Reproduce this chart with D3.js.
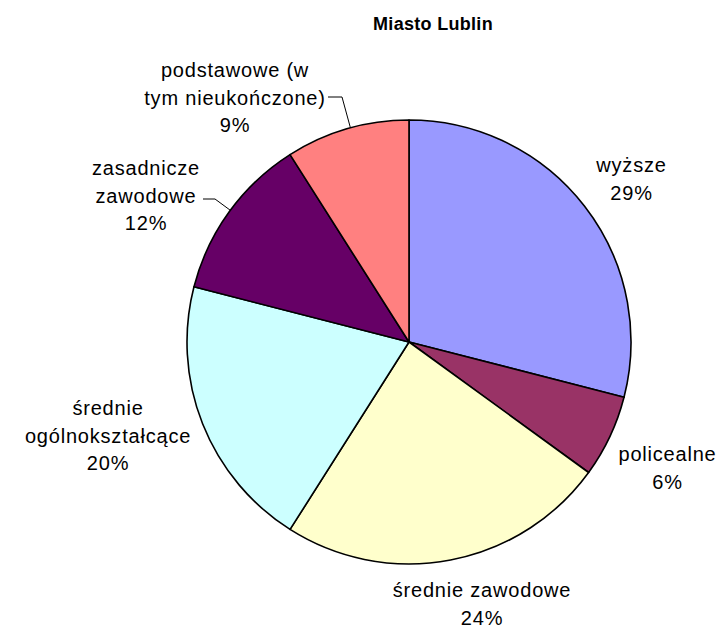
<!DOCTYPE html>
<html>
<head>
<meta charset="utf-8">
<script src="https://cdn.jsdelivr.net/npm/d3@7"></script>
<style>
  html, body { margin: 0; padding: 0; background: #fff; }
  svg { display: block; }
  text { font-family: "Liberation Sans", Arial, sans-serif; fill: #000; white-space: pre; }
</style>
</head>
<body>
<div id="chart"></div>
<script>
// ---- data ----
const title = "Miasto Lublin";
const categories = ["wyższe", "policealne", "średnie zawodowe", "średnie ogólnokształcące", "zasadnicze zawodowe", "podstawowe (w tym nieukończone)"];
const values = [29, 6, 24, 20, 12, 9];
const labelLines = [
  ["wyższe", "29%"],
  ["policealne", "6%"],
  ["średnie zawodowe", "24%"],
  ["średnie", "ogólnokształcące", "20%"],
  ["zasadnicze", "zawodowe", "12%"],
  ["podstawowe (w", "tym nieukończone)", "9%"]
];
const colors = ["#9999FF", "#993366", "#FFFFCC", "#CCFFFF", "#660066", "#FF8080"];

// ---- layout (label anchors relative to pie centre: centre x, first baseline) ----
const labelLayout = [
  { dx: 222.5, dy: -170 },
  { dx: 258.5, dy: 119 },
  { dx: 73,    dy: 255 },
  { dx: -301,  dy: 73 },
  { dx: -263,  dy: -167 },
  { dx: -174,  dy: -265 }
];
const lineHeight = 27.5;
// leader lines (relative to pie centre) for labels that have them
const leaders = {
  4: { x0: -206, y: -143, x1: -194 },
  5: { x0: -81,  y: -245, x1: -67 }
};

const W = 722, H = 627;
const cx = 409, cy = 342, R = 222;

const svg = d3.select("#chart").append("svg").attr("width", W).attr("height", H);

svg.append("text")
  .attr("x", 433).attr("y", 30)
  .attr("text-anchor", "middle")
  .style("font-size", "18px").style("font-weight", "bold").style("letter-spacing", "0.3px")
  .text(title);

const pie = d3.pie().sort(null).value(d => d);
const arcs = pie(values);
const arc = d3.arc().innerRadius(0).outerRadius(R);
const color = d3.scaleOrdinal().domain(categories).range(colors);

const g = svg.append("g").attr("transform", `translate(${cx},${cy})`);

g.selectAll("path.slice")
  .data(arcs)
  .join("path")
  .attr("class", "slice")
  .attr("d", arc)
  .attr("fill", (d, i) => color(categories[i]))
  .attr("stroke", "#000")
  .attr("stroke-width", 1.6)
  .attr("stroke-linejoin", "round");

// leader lines: from label end to pie edge at slice mid-direction
Object.keys(leaders).forEach(k => {
  const i = +k, L = leaders[k];
  const a = arcs[i];
  const mid = (a.startAngle + a.endAngle) / 2;
  // point on the pie edge nearest the label end, on the slice
  const ang = Math.atan2(L.x1, -L.y);
  const angClamped = Math.max(a.startAngle + 0.02, Math.min(a.endAngle - 0.02, ang < 0 ? ang + 2 * Math.PI : ang));
  const ex = R * Math.sin(angClamped), ey = -R * Math.cos(angClamped);
  g.append("polyline")
    .attr("points", `${L.x0},${L.y} ${L.x1},${L.y} ${ex},${ey}`)
    .attr("fill", "none").attr("stroke", "#000").attr("stroke-width", 1);
});

labelLines.forEach((lines, i) => {
  const p = labelLayout[i];
  const t = g.append("text")
    .attr("text-anchor", "middle")
    .style("font-size", "20px")
    .style("letter-spacing", "0.8px");
  lines.forEach((ln, j) => {
    t.append("tspan").attr("x", p.dx).attr("y", p.dy + j * lineHeight).text(ln);
  });
});
</script>
</body>
</html>
